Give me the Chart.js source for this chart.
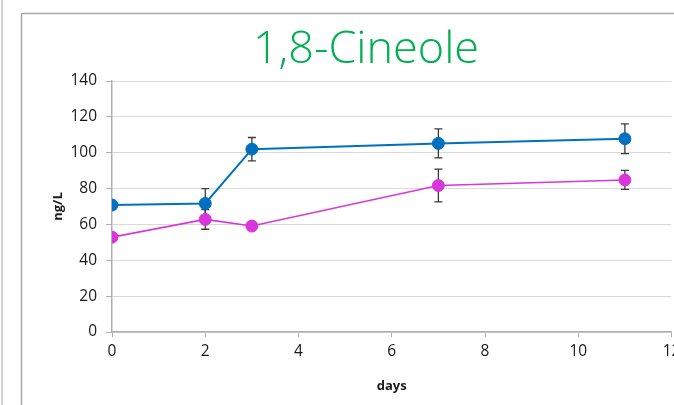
<!DOCTYPE html>
<html>
<head>
<meta charset="utf-8">
<style>
  html, body { margin: 0; padding: 0; background: #ffffff; overflow: hidden; }
  #wrap { position: relative; width: 674px; height: 405px; overflow: hidden; }
  canvas { position: absolute; left: 0; top: 0; }
</style>
<script src="https://cdn.jsdelivr.net/npm/chart.js@4/dist/chart.umd.min.js"></script>
</head>
<body>
<div id="wrap"><canvas id="c" width="732" height="405"></canvas></div>
<script>
// Sampling days
const days = [0, 2, 3, 7, 11];

// Series 1 (blue) mean concentration and standard deviation, ng/L
const blueValues = [70.8, 71.7, 102, 105.2, 107.8];
const blueErrors = [0, 8.3, 6.5, 8.1, 8.3];

// Series 2 (magenta) mean concentration and standard deviation, ng/L
const magentaValues = [52.9, 62.8, 59.1, 81.7, 84.8];
const magentaErrors = [0, 5.5, 2, 9.1, 5.3];

// Axis ticks
const xTicks = [0, 2, 4, 6, 8, 10, 12];
const yTicks = [0, 20, 40, 60, 80, 100, 120, 140];

const titleText = '1,8-Cineole';
const xTitle = 'days';
const yTitle = 'ng/L';

const BLUE = '#0070C0';
const MAGENTA = '#D936D9';
const AXIS = '#b0b0b0';
const GRID = '#d9d9d9';
const tickFont = { family: "'Open Sans', sans-serif", size: 15.5 };
const axisTitleFont = { family: "'Open Sans', sans-serif", size: 13, weight: 'bold', lineHeight: 1.2 };

function toPoints(xs, ys, errs) {
  return xs.map((x, i) => ({ x: x, y: ys[i], err: errs[i] }));
}

// Page frame lines around the chart
const framePlugin = {
  id: 'frame',
  beforeDraw(chart) {
    const ctx = chart.ctx;
    ctx.save();
    ctx.strokeStyle = '#d2d2d2';
    ctx.lineWidth = 2;
    ctx.beginPath();
    ctx.moveTo(2, 0);
    ctx.lineTo(2, chart.height);
    ctx.stroke();
    ctx.strokeStyle = '#a8a8a8';
    ctx.lineWidth = 1.5;
    ctx.beginPath();
    ctx.moveTo(21.5, chart.height);
    ctx.lineTo(21.5, 13.5);
    ctx.lineTo(chart.width, 13.5);
    ctx.stroke();
    ctx.restore();
  }
};

// Vertical error bars with caps, drawn beneath lines and markers
const errorBarPlugin = {
  id: 'errorBars',
  beforeDatasetsDraw(chart) {
    const ctx = chart.ctx;
    const xs = chart.scales.x, ys = chart.scales.y;
    ctx.save();
    ctx.strokeStyle = '#3a3a3a';
    ctx.lineWidth = 1.3;
    chart.data.datasets.forEach(ds => {
      ds.data.forEach(p => {
        if (!p.err) return;
        const px = xs.getPixelForValue(p.x);
        const top = ys.getPixelForValue(p.y + p.err);
        const bot = ys.getPixelForValue(p.y - p.err);
        ctx.beginPath();
        ctx.moveTo(px, top); ctx.lineTo(px, bot);
        ctx.moveTo(px - 4, top); ctx.lineTo(px + 4, top);
        ctx.moveTo(px - 4, bot); ctx.lineTo(px + 4, bot);
        ctx.stroke();
      });
    });
    ctx.restore();
  }
};

const PAD_LEFT = 60.5;

new Chart(document.getElementById('c'), {
  type: 'scatter',
  data: {
    datasets: [
      {
        data: toPoints(days, blueValues, blueErrors),
        showLine: true,
        borderColor: BLUE,
        backgroundColor: BLUE,
        borderWidth: 2,
        pointRadius: 6,
        pointBorderWidth: 1,
        pointBorderColor: BLUE,
        pointBackgroundColor: BLUE
      },
      {
        data: toPoints(days, magentaValues, magentaErrors),
        showLine: true,
        borderColor: MAGENTA,
        backgroundColor: MAGENTA,
        borderWidth: 1.6,
        pointRadius: 6,
        pointBorderWidth: 1,
        pointBorderColor: MAGENTA,
        pointBackgroundColor: MAGENTA
      }
    ]
  },
  options: {
    responsive: false,
    animation: false,
    devicePixelRatio: 1,
    layout: { padding: { left: PAD_LEFT, right: 60.5, top: 0, bottom: 0 } },
    plugins: {
      legend: { display: false },
      tooltip: { enabled: false },
      title: {
        display: true,
        text: titleText,
        color: '#00B050',
        font: { family: "'Open Sans', sans-serif", size: 45, weight: '300', lineHeight: 1.2 },
        padding: { top: 23, bottom: 4 }
      }
    },
    scales: {
      x: {
        type: 'linear',
        min: 0,
        max: 12,
        afterBuildTicks(scale) { scale.ticks = xTicks.map(v => ({ value: v })); },
        afterFit(scale) { scale.height = 405 - 332; },
        border: { color: AXIS, width: 1.5 },
        grid: { color: 'rgba(0,0,0,0)', tickColor: AXIS, tickLength: 5, drawTicks: true },
        ticks: { color: '#1a1a1a', font: tickFont, padding: 5, maxRotation: 0, autoSkip: false },
        title: {
          display: true,
          text: xTitle,
          color: '#1a1a1a',
          font: axisTitleFont,
          padding: { top: 0, bottom: 11 }
        }
      },
      y: {
        type: 'linear',
        min: 0,
        max: 140,
        afterBuildTicks(scale) { scale.ticks = yTicks.map(v => ({ value: v })); },
        afterFit(scale) { scale.width = 112 - PAD_LEFT; },
        border: { color: AXIS, width: 1.5 },
        grid: { color: GRID, lineWidth: 1, tickColor: AXIS, tickLength: 6, drawTicks: true },
        ticks: { color: '#1a1a1a', font: tickFont, padding: 9 },
        title: {
          display: true,
          text: yTitle,
          color: '#1a1a1a',
          font: axisTitleFont,
          padding: { top: 58 - PAD_LEFT - 7.8, bottom: 0 }
        }
      }
    }
  },
  plugins: [framePlugin, errorBarPlugin]
});
</script>
</body>
</html>
